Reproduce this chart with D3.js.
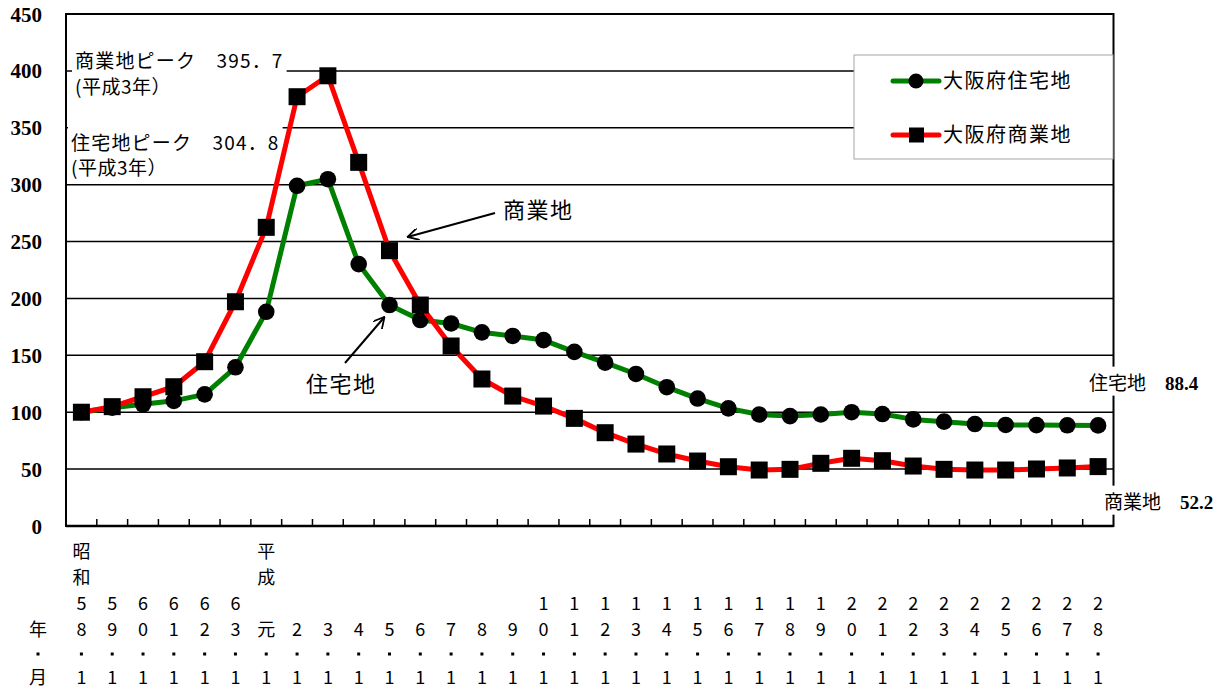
<!DOCTYPE html>
<html>
<head>
<meta charset="utf-8">
<script src="https://cdn.jsdelivr.net/npm/d3@7.9.0/dist/d3.min.js"></script>
<style>
  body { margin: 0; background: #fff; }
  svg { display: block; }
</style>
</head>
<body>
<svg id="chart" width="1227" height="690"></svg>
<script>
// 年（昭和58年〜平成28年）、各年1月
const years = ["58", "59", "60", "61", "62", "63", "元", "2", "3", "4", "5", "6", "7", "8", "9",
  "10", "11", "12", "13", "14", "15", "16", "17", "18", "19", "20", "21", "22", "23", "24",
  "25", "26", "27", "28"];
const eras = { "58": "昭和", "元": "平成" };
const months = years.map(() => "1");

// 指数（昭和58年1月 = 100）
const residential = [100, 104, 107, 110, 115.7, 139.5, 188.3, 299, 304.8, 230.2, 194.2, 181,
  178, 170.2, 167, 163.4, 153, 143.5, 133.6, 122, 112, 103.4, 98, 96.6, 98, 100, 98.4, 93.7,
  91.7, 89.6, 88.8, 88.7, 88.5, 88.4];
const commercial = [100, 104.9, 113.6, 122.4, 144.4, 197.1, 262.5, 377.3, 395.7, 319.6, 242,
  194.2, 158.2, 129.2, 114.2, 105.4, 94.6, 82, 72, 63.3, 57.1, 52.1, 49.2, 49.8, 55.1, 59.5,
  57.4, 52.7, 49.8, 49.2, 49.2, 50.1, 51, 52.2];

const yTicks = [0, 50, 100, 150, 200, 250, 300, 350, 400, 450];

const seriesNames = ["大阪府住宅地", "大阪府商業地"];
const seriesColors = ["#008000", "#ff0000"];

const jp = "'Noto Sans CJK JP', 'Noto Sans', sans-serif";
const serif = "'Liberation Serif', 'DejaVu Serif', serif";

const svg = d3.select("#chart");
const plotL = 66, plotR = 1113.5, plotT = 14, plotB = 526;

const x = d3.scaleBand().domain(d3.range(years.length)).range([plotL, plotR]);
const cx = i => x(i) + x.bandwidth() / 2;
const y = d3.scaleLinear().domain([0, 450]).range([plotB, plotT]);

// gridlines
svg.append("g").selectAll("line")
  .data(yTicks.slice(1, -1))
  .join("line")
  .attr("x1", plotL).attr("x2", plotR)
  .attr("y1", d => y(d)).attr("y2", d => y(d))
  .attr("stroke", "#000").attr("stroke-width", 1.5);

// y labels
svg.append("g").selectAll("text")
  .data(yTicks)
  .join("text")
  .attr("x", 42).attr("y", d => y(d))
  .attr("dy", "0.36em")
  .attr("text-anchor", "end")
  .attr("font-family", serif).attr("font-weight", "bold").attr("font-size", 21)
  .text(d => d);

// bottom ticks
svg.append("g").selectAll("line")
  .data(d3.range(1, years.length))
  .join("line")
  .attr("x1", i => x(i)).attr("x2", i => x(i))
  .attr("y1", plotB).attr("y2", plotB - 7)
  .attr("stroke", "#000").attr("stroke-width", 1.5);

// frame
svg.append("rect")
  .attr("x", plotL).attr("y", plotT)
  .attr("width", plotR - plotL).attr("height", plotB - plotT)
  .attr("fill", "none").attr("stroke", "#000").attr("stroke-width", 2);
svg.append("line")
  .attr("x1", plotL).attr("x2", plotR).attr("y1", plotB).attr("y2", plotB)
  .attr("stroke", "#000").attr("stroke-width", 2.5);

// x labels, stacked vertically
const rowY = [552, 578, 604, 630, 654, 678];
const xl = svg.append("g").attr("font-family", jp).attr("font-size", 18)
  .attr("text-anchor", "middle");
years.forEach((yr, i) => {
  const era = eras[yr];
  if (era) {
    [...era].forEach((ch, k) => xl.append("text").attr("x", cx(i)).attr("y", rowY[k])
      .attr("dy", "0.35em").text(ch));
  }
  const chars = [...yr];
  chars.forEach((ch, k) => xl.append("text").attr("x", cx(i))
    .attr("y", rowY[3 - (chars.length - 1) + k]).attr("dy", "0.35em").text(ch));
  xl.append("rect").attr("x", cx(i) - 1.5).attr("y", rowY[4] - 1.5)
    .attr("width", 3).attr("height", 3).attr("fill", "#000");
  xl.append("text").attr("x", cx(i)).attr("y", rowY[5]).attr("dy", "0.35em").text(months[i]);
});
[["年", 3], ["月", 5]].forEach(([ch, r]) => {
  xl.append("text").attr("x", 38).attr("y", rowY[r]).attr("dy", "0.35em").text(ch);
});
xl.append("rect").attr("x", 36.5).attr("y", rowY[4] - 1.5)
  .attr("width", 3).attr("height", 3).attr("fill", "#000");

// text with white background
function boxedText(g, lines, x0, y0, lh, size) {
  const grp = g.append("g");
  const bg = grp.append("rect").attr("fill", "#fff");
  const t = grp.append("text").attr("font-family", jp).attr("font-size", size);
  lines.forEach((l, k) => {
    const ts = t.append("tspan").attr("x", x0).attr("y", y0 + k * lh).attr("dy", "0.35em");
    l.forEach(part => ts.append("tspan")
      .attr("font-family", part.serif ? serif : jp)
      .attr("font-weight", part.serif ? "bold" : "normal")
      .attr("letter-spacing", part.ls || 0)
      .text(part.t));
  });
  const b = t.node().getBBox();
  bg.attr("x", b.x - 3).attr("y", b.y - 1).attr("width", b.width + 6).attr("height", b.height + 2);
  return grp;
}

const peakC = d3.max(commercial), peakR = d3.max(residential);
const fw = v => String(v).replace(".", "．");
boxedText(svg, [[{ t: "商業地ピーク　" + fw(peakC), ls: 1.2 }], [{ t: "(平成3年）", ls: 0.5 }]], 75, 61, 26, 19);
boxedText(svg, [[{ t: "住宅地ピーク　" + fw(peakR), ls: 1.2 }], [{ t: "(平成3年）", ls: 0.5 }]], 71, 143, 25, 19);

// right end labels
const last = years.length - 1;
boxedText(svg, [[{ t: "住宅地　" }, { t: residential[last], serif: true }]], 1089, 383, 0, 19);
boxedText(svg, [[{ t: "商業地　" }, { t: commercial[last], serif: true }]], 1104, 502, 0, 19);

// series
const line = d3.line().x((d, i) => cx(i)).y(d => y(d));
const series = [residential, commercial];
series.forEach((vals, s) => {
  const g = svg.append("g");
  g.append("path").datum(vals).attr("d", line)
    .attr("fill", "none").attr("stroke", seriesColors[s]).attr("stroke-width", 5)
    .attr("stroke-linejoin", "round");
  if (s === 0) {
    g.selectAll("circle").data(vals).join("circle")
      .attr("cx", (d, i) => cx(i)).attr("cy", d => y(d)).attr("r", 8.3).attr("fill", "#000");
  } else {
    g.selectAll("rect").data(vals).join("rect")
      .attr("x", (d, i) => cx(i) - 8.5).attr("y", d => y(d) - 8.5)
      .attr("width", 17).attr("height", 17).attr("fill", "#000");
  }
});

// legend
const lg = svg.append("g");
lg.append("rect").attr("x", 854).attr("y", 55).attr("width", 259).attr("height", 104)
  .attr("fill", "#fff").attr("stroke", "#a6a6a6").attr("stroke-width", 1);
seriesNames.forEach((name, s) => {
  const ly = 81 + s * 54;
  lg.append("line").attr("x1", 893).attr("x2", 939).attr("y1", ly).attr("y2", ly)
    .attr("stroke", seriesColors[s]).attr("stroke-width", 5).attr("stroke-linecap", "round");
  if (s === 0) lg.append("circle").attr("cx", 916).attr("cy", ly).attr("r", 7.5).attr("fill", "#000");
  else lg.append("rect").attr("x", 909).attr("y", ly - 7.5).attr("width", 15).attr("height", 15).attr("fill", "#000");
  lg.append("text").attr("x", 943).attr("y", ly).attr("dy", "0.36em")
    .attr("font-family", jp).attr("font-size", 20).attr("letter-spacing", 1.5).text(name);
});

// arrow callouts
svg.append("defs").append("marker")
  .attr("id", "open").attr("viewBox", "0 0 12 12").attr("refX", 11).attr("refY", 6)
  .attr("markerWidth", 12).attr("markerHeight", 12).attr("markerUnits", "userSpaceOnUse")
  .attr("orient", "auto")
  .append("path").attr("d", "M0,0 L11,6 L0,12").attr("fill", "none")
  .attr("stroke", "#000").attr("stroke-width", 1.8);

const ann = svg.append("g");
ann.append("line").attr("x1", 495).attr("y1", 213).attr("x2", cx(10) + 18).attr("y2", 237)
  .attr("stroke", "#000").attr("stroke-width", 2).attr("marker-end", "url(#open)");
ann.append("text").attr("x", 503).attr("y", 210).attr("dy", "0.35em")
  .attr("font-family", jp).attr("font-size", 22).attr("letter-spacing", 1.5).text("商業地");
ann.append("line").attr("x1", 345).attr("y1", 363).attr("x2", cx(10) - 5).attr("y2", 317)
  .attr("stroke", "#000").attr("stroke-width", 2).attr("marker-end", "url(#open)");
ann.append("text").attr("x", 306).attr("y", 384).attr("dy", "0.35em")
  .attr("font-family", jp).attr("font-size", 22).attr("letter-spacing", 1.5).text("住宅地");
</script>
</body>
</html>
